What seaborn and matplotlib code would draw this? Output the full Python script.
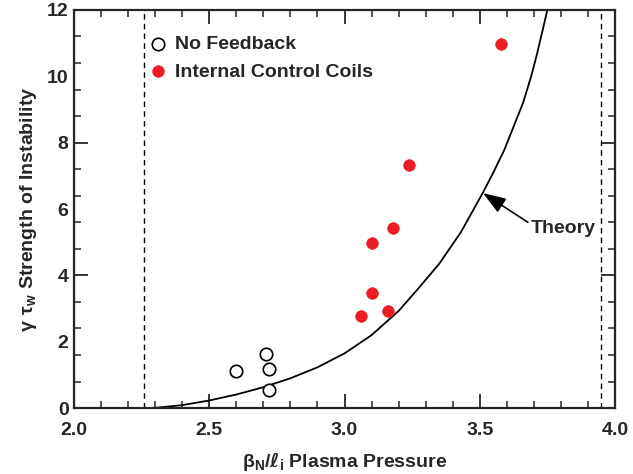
import pandas as pd
import matplotlib
matplotlib.use("Agg")
import matplotlib.pyplot as plt
import seaborn as sns

# =====================================================
# Data
# =====================================================

no_fb_x = [2.60, 2.71, 2.72, 2.72]
no_fb_y = [1.11, 1.62, 1.17, 0.55]

coil_x = [3.58, 3.24, 3.18, 3.10, 3.10, 3.16, 3.06]
coil_y = [10.96, 7.32, 5.42, 4.97, 3.46, 2.92, 2.77]

theory_x = [2.29, 2.40, 2.50, 2.60, 2.70, 2.80, 2.90, 3.00, 3.10, 3.20,
            3.27, 3.35, 3.43, 3.51, 3.55, 3.59, 3.66, 3.69, 3.71, 3.75]
theory_y = [0.0, 0.09, 0.23, 0.41, 0.63, 0.90, 1.23, 1.65, 2.20, 2.93,
            3.58, 4.35, 5.30, 6.47, 7.10, 7.77, 9.20, 10.00, 10.62, 12.0]

limit_lines = [2.26, 3.95]

x_ticks = [2.0, 2.5, 3.0, 3.5, 4.0]
y_ticks = [0, 2, 4, 6, 8, 10, 12]

no_fb = pd.DataFrame({"x": no_fb_x, "y": no_fb_y})
coils = pd.DataFrame({"x": coil_x, "y": coil_y})
theory = pd.DataFrame({"x": theory_x, "y": theory_y})

# =====================================================
# Style
# =====================================================

sns.set_style("ticks")
plt.rcParams["font.family"] = ["Liberation Sans", "DejaVu Sans"]
plt.rcParams["font.weight"] = "bold"
plt.rcParams["mathtext.fontset"] = "custom"
plt.rcParams["mathtext.rm"] = "Liberation Sans:bold"
plt.rcParams["mathtext.bf"] = "Liberation Sans:bold"
plt.rcParams["mathtext.it"] = "DejaVu Sans:italic"

fig = plt.figure(figsize=(6.33, 4.74), dpi=100)
ax = fig.add_axes([0.117, 0.139, 0.8546, 0.84])

red = "#ec1c24"

# =====================================================
# Plot
# =====================================================

sns.lineplot(
    data=theory, x="x", y="y",
    sort=False, estimator=None,
    color="black", linewidth=1.3, ax=ax
)

sns.scatterplot(
    data=no_fb, x="x", y="y",
    marker="o", s=80, facecolor="white",
    edgecolor="black", linewidth=1.2,
    label="No Feedback", ax=ax, zorder=3
)

sns.scatterplot(
    data=coils, x="x", y="y",
    marker="o", s=70, color=red,
    edgecolor=red, linewidth=0.5,
    label="Internal Control Coils", ax=ax, zorder=3
)

for xv in limit_lines:
    ax.axvline(xv, color="black", linewidth=1.0, linestyle=(0, (4, 3)))

ax.annotate(
    "", xy=(3.512, 6.48), xytext=(3.678, 5.60),
    arrowprops=dict(arrowstyle="-|>,head_length=0.7,head_width=0.25",
                    color="black", lw=1.2,
                    mutation_scale=20, shrinkA=0, shrinkB=0)
)
ax.text(3.93, 5.42, "Theory", ha="right", va="center",
        fontsize=14, fontweight="bold")

# =====================================================
# Axes
# =====================================================

ax.set_xlim(2.0, 4.0)
ax.set_ylim(0, 12)

ax.set_xticks(x_ticks)
ax.set_xticks([2.0 + 0.1 * i for i in range(21)], minor=True)
ax.set_xticklabels([f"{v:.1f}" for v in x_ticks])

ax.set_yticks(y_ticks)
ax.set_yticks([0.8 * i for i in range(16)], minor=True)
ax.set_yticklabels([str(v) for v in y_ticks])

ax.tick_params(axis="x", which="major", direction="in", length=10,
               width=1.3, top=True, labelsize=14, pad=10)
ax.tick_params(axis="x", which="minor", direction="in", length=5,
               width=1.1, top=True)
ax.tick_params(axis="y", which="major", direction="in", length=0,
               labelsize=14, pad=4)
ax.tick_params(axis="y", which="minor", direction="in", length=5,
               width=1.1, right=True)

for side in ["left", "right"]:
    sec = ax.secondary_yaxis(side)
    sec.set_yticks([0, 4, 8, 12])
    sec.tick_params(direction="in", length=10, width=1.3,
                    labelleft=False, labelright=False)

for sp in ax.spines.values():
    sp.set_linewidth(1.6)
    sp.set_visible(True)

ax.set_xlabel(r"$\mathrm{\beta_N}/\mathit{\ell}_\mathrm{i}$ Plasma Pressure",
              fontsize=14, fontweight="bold", labelpad=8)
ax.set_ylabel(r"$\mathrm{\gamma\ \tau_w}$ Strength of Instability",
              fontsize=14, fontweight="bold", labelpad=6)

ax.legend(
    loc="upper left", bbox_to_anchor=(0.122, 0.955),
    frameon=False, fontsize=14, handlelength=1.0,
    handletextpad=0.4, labelspacing=0.5, borderaxespad=0
)

plt.savefig("out.png", dpi=100)
plt.close()
